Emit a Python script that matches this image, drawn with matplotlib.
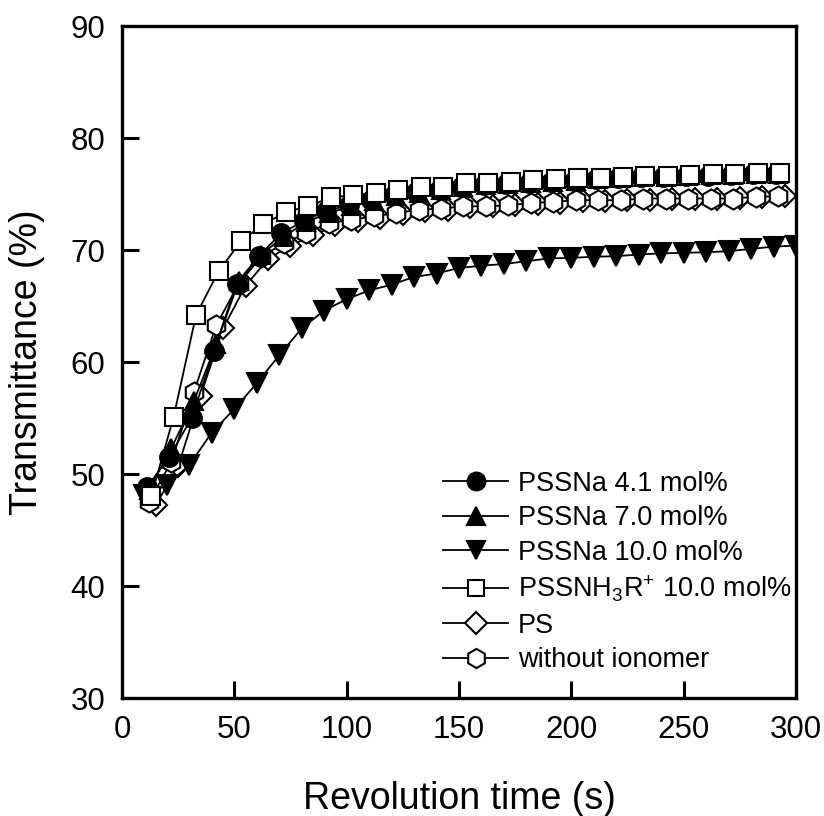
import matplotlib
matplotlib.use("Agg")
import matplotlib.pyplot as plt

plt.rcParams["font.family"] = ["Liberation Sans", "DejaVu Sans"]
plt.rcParams["mathtext.fontset"] = "custom"
plt.rcParams["mathtext.rm"] = "Liberation Sans"

# ---- data ----
t_na41 = [11, 21, 31, 41, 51, 61, 71, 81, 91, 101, 111, 121, 131, 141, 151, 161, 171, 181,
          191, 201, 211, 221, 231, 241, 251, 261, 271, 281, 291]
T_na41 = [48.8, 51.5, 55.0, 61.0, 67.0, 69.5, 71.5, 72.6, 73.5, 74.0, 74.5, 74.9, 75.2, 75.4,
          75.6, 75.8, 75.9, 76.0, 76.1, 76.2, 76.3, 76.4, 76.5, 76.55, 76.6, 76.65, 76.7, 76.75, 76.8]

t_na70 = [12, 22, 32, 42, 52, 62, 72, 82, 92, 102, 112, 122, 132, 142, 152, 162, 172, 182,
          192, 202, 212, 222, 232, 242, 252, 262, 272, 282, 292]
T_na70 = [48.6, 52.3, 56.5, 61.6, 67.2, 69.6, 71.2, 72.5, 73.3, 73.9, 74.4, 74.8, 75.1, 75.4,
          75.6, 75.8, 75.9, 76.0, 76.1, 76.2, 76.3, 76.4, 76.5, 76.55, 76.6, 76.7, 76.7, 76.8, 76.8]

t_na100 = [10, 20, 30, 40, 50, 60, 70, 80, 90, 100, 110, 120, 130, 140, 150, 160, 170, 180,
           190, 200, 210, 220, 230, 240, 250, 260, 270, 280, 290, 300]
T_na100 = [48.1, 49.0, 50.8, 53.7, 55.8, 58.1, 60.6, 63.0, 64.6, 65.6, 66.4, 66.9, 67.6, 67.9,
           68.4, 68.6, 68.75, 69.0, 69.25, 69.3, 69.4, 69.45, 69.6, 69.7, 69.75, 69.8, 69.9,
           70.1, 70.3, 70.4]

t_nh3 = [13, 23, 33, 43, 53, 63, 73, 83, 93, 103, 113, 123, 133, 143, 153, 163, 173, 183,
         193, 203, 213, 223, 233, 243, 253, 263, 273, 283, 293]
T_nh3 = [48.0, 55.1, 64.2, 68.1, 70.8, 72.3, 73.4, 73.9, 74.7, 74.9, 75.1, 75.4, 75.6, 75.65,
         75.95, 76.0, 76.1, 76.25, 76.3, 76.4, 76.45, 76.55, 76.6, 76.6, 76.7, 76.75, 76.8,
         76.85, 76.85]

t_ps = [15, 25, 35, 45, 55, 65, 75, 85, 95, 105, 115, 125, 135, 145, 155, 165, 175, 185,
        195, 205, 215, 225, 235, 245, 255, 265, 275, 285, 295]
T_ps = [47.2, 50.7, 57.0, 63.0, 66.8, 69.2, 70.4, 71.3, 72.2, 72.6, 72.9, 73.2, 73.5, 73.6,
        73.8, 73.9, 74.0, 74.1, 74.2, 74.35, 74.4, 74.45, 74.5, 74.55, 74.6, 74.6, 74.65, 74.7, 74.8]

t_none = [12, 22, 32, 42, 52, 62, 72, 82, 92, 102, 112, 122, 132, 142, 152, 162, 172, 182,
          192, 202, 212, 222, 232, 242, 252, 262, 272, 282, 292]
T_none = [47.5, 51.1, 57.3, 63.3, 67.0, 69.4, 70.6, 71.5, 72.4, 72.7, 73.0, 73.3, 73.6, 73.7,
          73.9, 73.9, 74.0, 74.2, 74.3, 74.45, 74.45, 74.45, 74.6, 74.6, 74.6, 74.6, 74.6, 74.75, 74.8]

x_ticks = [0, 50, 100, 150, 200, 250, 300]
y_ticks = [30, 40, 50, 60, 70, 80, 90]

fig = plt.figure(figsize=(8.24, 8.16), dpi=100)
ax = fig.add_axes([0.148, 0.1446, 0.818, 0.8235])

kw = dict(color="black", lw=1.3, mec="black", mew=1.5)
ax.plot(t_ps, T_ps, marker="D", ms=11.5, mfc="white", zorder=2, label="PS", **kw)
ax.plot(t_none, T_none, marker="h", ms=14.5, mfc="white", zorder=3, label="without ionomer", **kw)
ax.plot(t_na70, T_na70, marker="^", ms=13.5, mfc="black", zorder=4, label="PSSNa 7.0 mol%", **kw)
ax.plot(t_na41, T_na41, marker="o", ms=13.5, mfc="black", zorder=5, label="PSSNa 4.1 mol%", **kw)
ax.plot(t_na100, T_na100, marker="v", ms=14, mfc="black", zorder=5, label="PSSNa 10.0 mol%", **kw)
ax.plot(t_nh3, T_nh3, marker="s", ms=12.5, mfc="white", zorder=6,
        label=r"PSSNH$_3$R$^{+}$ 10.0 mol%", **kw)

ax.set_xlim(0, 300)
ax.set_ylim(30, 90)
ax.set_xticks(x_ticks)
ax.set_yticks(y_ticks)
ax.tick_params(direction="in", length=12, width=2.2, labelsize=22.5, pad=12)
for s in ax.spines.values():
    s.set_linewidth(2.4)
ax.set_xlabel("Revolution time (s)", fontsize=27, labelpad=26)
ax.set_ylabel("Transmittance (%)", fontsize=27, labelpad=18)

h, l = ax.get_legend_handles_labels()
order = ["PSSNa 4.1 mol%", "PSSNa 7.0 mol%", "PSSNa 10.0 mol%",
         r"PSSNH$_3$R$^{+}$ 10.0 mol%", "PS", "without ionomer"]
hd = dict(zip(l, h))
leg = ax.legend([hd[k] for k in order], order, loc="upper left", bbox_to_anchor=(0.477, 0.338),
                frameon=False, fontsize=19.5, handlelength=2.4, handletextpad=0.35,
                labelspacing=0.31, borderpad=0, borderaxespad=0, markerscale=0.95)

fig.savefig("out.png", dpi=100)
